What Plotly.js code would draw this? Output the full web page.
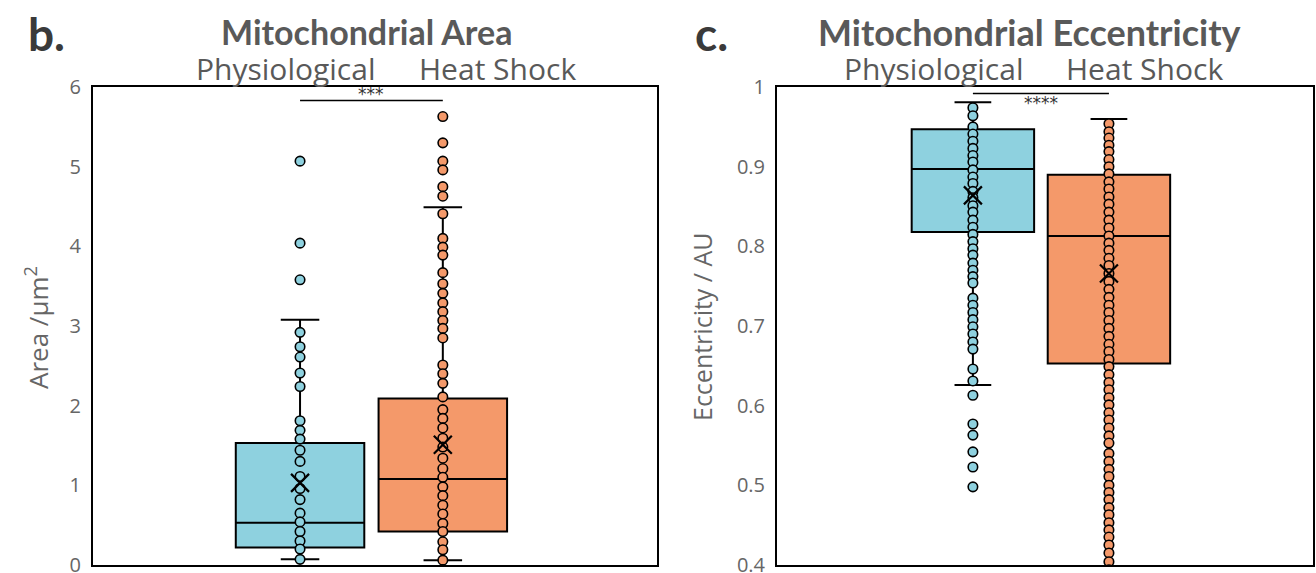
<!DOCTYPE html>
<html>
<head>
<meta charset="utf-8">
<script src="https://cdn.plot.ly/plotly-3.0.1.min.js"></script>
<style>html,body{margin:0;padding:0;background:#fff;}#chart{width:1316px;height:573px;}</style>
</head>
<body>
<div id="chart"></div>
<script>
// ---- data ----
const groups = ["Physiological", "Heat Shock"];
const groupPos = [0, 1];

// Mitochondrial Area (µm²)
const areaTicks = [0, 1, 2, 3, 4, 5, 6];
const areaPhysPoints = [5.07, 4.04, 3.58, 2.92, 2.74, 2.61, 2.41, 2.24, 1.81, 1.69, 1.58, 1.44, 1.30, 1.11, 0.96, 0.82, 0.65, 0.54, 0.42, 0.30, 0.20, 0.07];
const areaHeatPoints = [5.63, 5.30, 5.07, 4.96, 4.75, 4.63, 4.41, 4.10, 3.99, 3.89, 3.67, 3.53, 3.41, 3.29, 3.18, 3.07, 2.97, 2.85, 2.51, 2.40, 2.28, 2.11, 1.95, 1.84, 1.72, 1.59, 1.48, 1.34, 1.21, 1.10, 0.98, 0.87, 0.75, 0.64, 0.52, 0.42, 0.29, 0.19, 0.06];
const areaQ1 = [0.22, 0.42];
const areaMedian = [0.53, 1.08];
const areaQ3 = [1.53, 2.09];
const areaLowerFence = [0.07, 0.06];
const areaUpperFence = [3.08, 4.49];
const areaMean = [1.03, 1.51];

// Mitochondrial Eccentricity (AU)
const eccTicks = [0.4, 0.5, 0.6, 0.7, 0.8, 0.9, 1];
const eccTickText = ["0.4", "0.5", "0.6", "0.7", "0.8", "0.9", "1"];
const eccPhysPoints = [0.974, 0.964, 0.950, 0.941, 0.932, 0.923, 0.914, 0.906, 0.896, 0.887, 0.879, 0.869, 0.861, 0.851, 0.843, 0.833, 0.824, 0.815, 0.806, 0.797, 0.789, 0.779, 0.770, 0.762, 0.754, 0.735, 0.726, 0.717, 0.708, 0.699, 0.690, 0.680, 0.671, 0.646, 0.631, 0.613, 0.577, 0.563, 0.542, 0.523, 0.498];
const eccHeatPoints = [0.954, 0.944, 0.936, 0.927, 0.919, 0.909, 0.900, 0.891, 0.881, 0.872, 0.862, 0.853, 0.843, 0.833, 0.823, 0.813, 0.804, 0.795, 0.785, 0.776, 0.766, 0.756, 0.746, 0.736, 0.726, 0.717, 0.707, 0.697, 0.687, 0.677, 0.668, 0.658, 0.649, 0.639, 0.629, 0.620, 0.610, 0.601, 0.591, 0.582, 0.572, 0.562, 0.553, 0.540, 0.530, 0.520, 0.511, 0.500, 0.491, 0.482, 0.472, 0.463, 0.453, 0.444, 0.435, 0.425, 0.415, 0.404, 0.394, 0.385];
const eccQ1 = [0.818, 0.653];
const eccMedian = [0.897, 0.813];
const eccQ3 = [0.947, 0.890];
const eccLowerFence = [0.626, 0.30];
const eccUpperFence = [0.981, 0.960];
const eccMean = [0.864, 0.766];

const colors = ["#8ED1DF", "#F4996A"];
const grey = "#595959";

// ---- traces ----
const traces = [];
function addPanel(xa, ya, q1, med, q3, lf, uf, mean, pts) {
  for (let i = 0; i < 2; i++) {
    traces.push({
      type: "box", xaxis: xa, yaxis: ya,
      x: [groupPos[i]], q1: [q1[i]], median: [med[i]], q3: [q3[i]],
      lowerfence: [lf[i]], upperfence: [uf[i]],
      width: 0.9, whiskerwidth: 0.3, boxpoints: false,
      fillcolor: colors[i], line: {color: "#000", width: 2},
      showlegend: false, hoverinfo: "skip", name: groups[i]
    });
  }
  for (let i = 0; i < 2; i++) {
    traces.push({
      type: "scatter", mode: "markers", xaxis: xa, yaxis: ya,
      x: pts[i].map(() => groupPos[i]), y: pts[i],
      marker: {size: 9.5, color: colors[i], line: {color: "#000", width: 1.6}},
      showlegend: false, hoverinfo: "y", name: groups[i]
    });
  }
  traces.push({
    type: "scatter", mode: "markers", xaxis: xa, yaxis: ya,
    x: groupPos, y: mean,
    marker: {symbol: "x-thin-open", size: 18, color: "#000", line: {color: "#000", width: 2.2}},
    showlegend: false, hoverinfo: "y", name: "mean"
  });
}
addPanel("x", "y", areaQ1, areaMedian, areaQ3, areaLowerFence, areaUpperFence, areaMean, [areaPhysPoints, areaHeatPoints]);
addPanel("x2", "y2", eccQ1, eccMedian, eccQ3, eccLowerFence, eccUpperFence, eccMean, [eccPhysPoints, eccHeatPoints]);

const L = 93, R = 1313, T = 87, B = 565;
const px = v => (v - L) / (R - L);
const py = v => (B - v) / (B - T);

const tickFont = {family: "Open Sans, Noto Sans, sans-serif", size: 20, color: "#666"};
const xCommon = {showgrid: false, zeroline: false, showticklabels: false, showline: true, mirror: true, linecolor: "#000", linewidth: 2, ticks: "", range: [-1.45, 2.5], fixedrange: true};
const yCommon = {showgrid: false, zeroline: false, showline: true, mirror: true, linecolor: "#000", linewidth: 2, ticks: "outside", ticklen: 6, tickcolor: "rgba(0,0,0,0)", tickfont: tickFont, tickmode: "array", ticklabeloverflow: "allow"};

const layout = {
  width: 1316, height: 573,
  margin: {l: L, r: 1316 - R, t: T, b: 573 - B},
  paper_bgcolor: "#fff", plot_bgcolor: "#fff",
  showlegend: false,
  xaxis: Object.assign({}, xCommon, {domain: [0, px(657)], anchor: "y"}),
  yaxis: Object.assign({}, yCommon, {range: [-0.001, 6.001], tickvals: areaTicks, ticktext: areaTicks.map(String), anchor: "x"}),
  xaxis2: Object.assign({}, xCommon, {domain: [px(777), 1], anchor: "y2", range: [-1.44, 2.5]}),
  yaxis2: Object.assign({}, yCommon, {range: [0.3999, 1.0001], tickvals: eccTicks, ticktext: eccTickText, anchor: "x2"}),
  shapes: [
    {type: "line", xref: "x", yref: "y", x0: 0, x1: 1, y0: 5.83, y1: 5.83, line: {color: "#000", width: 1.5}},
    {type: "line", xref: "x2", yref: "y2", x0: 0, x1: 1, y0: 0.992, y1: 0.992, line: {color: "#000", width: 1.5}}
  ],
  annotations: [
    {xref: "x", yref: "y", x: 0.5, y: 5.83, text: "***", showarrow: false, yanchor: "bottom", yshift: -5, font: {family: "DejaVu Sans, sans-serif", size: 17, color: "#333"}},
    {xref: "x2", yref: "y2", x: 0.5, y: 0.992, text: "****", showarrow: false, yanchor: "top", yshift: 2, font: {family: "DejaVu Sans, sans-serif", size: 17, color: "#333"}},
    {xref: "paper", yref: "paper", x: px(366), y: py(32), text: "<b>Mitochondrial Area</b>", showarrow: false, xanchor: "center", yanchor: "middle", font: {family: "Lato, Open Sans, sans-serif", size: 34, color: grey}},
    {xref: "paper", yref: "paper", x: px(1029), y: py(32), text: "<b>Mitochondrial Eccentricity</b>", showarrow: false, xanchor: "center", yanchor: "middle", font: {family: "Lato, Open Sans, sans-serif", size: 36, color: grey}},
    {xref: "paper", yref: "paper", x: px(47), y: py(33), text: "<b>b.</b>", showarrow: false, xanchor: "center", yanchor: "middle", font: {family: "Lato, Open Sans, sans-serif", size: 46, color: "#3a3a3a"}},
    {xref: "paper", yref: "paper", x: px(711), y: py(33), text: "<b>c.</b>", showarrow: false, xanchor: "center", yanchor: "middle", font: {family: "Lato, Open Sans, sans-serif", size: 46, color: "#3a3a3a"}},
    {xref: "paper", yref: "paper", x: px(286), y: py(69), text: groups[0], showarrow: false, xanchor: "center", yanchor: "middle", font: {family: "Open Sans, sans-serif", size: 30, color: grey}},
    {xref: "paper", yref: "paper", x: px(497), y: py(69), text: groups[1], showarrow: false, xanchor: "center", yanchor: "middle", font: {family: "Open Sans, sans-serif", size: 30, color: grey}},
    {xref: "paper", yref: "paper", x: px(934), y: py(69), text: groups[0], showarrow: false, xanchor: "center", yanchor: "middle", font: {family: "Open Sans, sans-serif", size: 30, color: grey}},
    {xref: "paper", yref: "paper", x: px(1144), y: py(69), text: groups[1], showarrow: false, xanchor: "center", yanchor: "middle", font: {family: "Open Sans, sans-serif", size: 30, color: grey}},
    {xref: "paper", yref: "paper", x: px(37), y: py(328), text: "Area /µm<sup>2</sup>", textangle: -90, showarrow: false, xanchor: "center", yanchor: "middle", font: {family: "Open Sans, sans-serif", size: 26, color: "#666"}},
    {xref: "paper", yref: "paper", x: px(702), y: py(327), text: "Eccentricity / AU", textangle: -90, showarrow: false, xanchor: "center", yanchor: "middle", font: {family: "Open Sans, sans-serif", size: 25, color: "#666"}}
  ]
};

Plotly.newPlot("chart", traces, layout, {staticPlot: true, displayModeBar: false});
</script>
</body>
</html>
